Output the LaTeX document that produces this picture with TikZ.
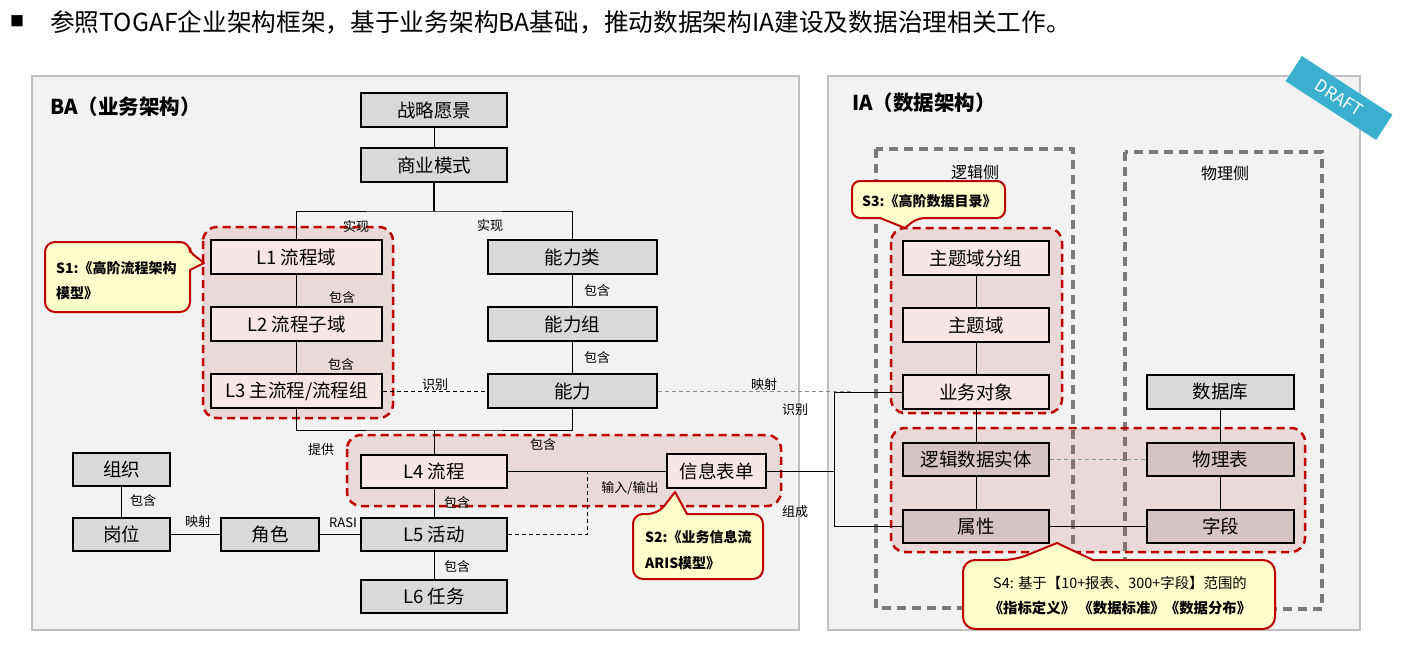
\documentclass[tikz,border=0pt]{standalone}
\usepackage{fontspec}
\setmainfont{Noto Sans CJK SC}
\definecolor{boxgray}{HTML}{D9D9D9}
\definecolor{boxpink}{HTML}{F9E5E5}
\definecolor{boxmauve}{HTML}{D6C4C5}
\definecolor{redc}{HTML}{C00000}
\definecolor{grpc}{HTML}{C0504D}
\definecolor{sidec}{HTML}{7A7A7A}
\definecolor{framec}{HTML}{BFBFBF}
\definecolor{framefill}{HTML}{F2F2F2}
\definecolor{callfill}{HTML}{FFFFCC}
\definecolor{draftc}{HTML}{3AAFCE}
\definecolor{lgray}{HTML}{8C8C8C}
\pgfdeclarelayer{lay0}
\pgfdeclarelayer{lay1}
\pgfsetlayers{lay0,lay1,main}
\begin{document}
\begin{tikzpicture}[x=1pt,y=-1pt,
 box/.style={draw=black,line width=2pt,inner sep=0pt,minimum height=34pt,font=\fontsize{18.5}{21}\selectfont},
 gbox/.style={box,fill=boxgray},
 pbox/.style={box,fill=boxpink},
 mbox/.style={box,fill=boxmauve},
 lbl/.style={inner sep=0pt,font=\fontsize{13}{15}\selectfont},
 conn/.style={line width=1pt},
 dconn/.style={line width=1pt,dash pattern=on 4pt off 3pt},
 gdconn/.style={line width=1pt,draw=lgray,dash pattern=on 4pt off 3pt},
 grp/.style={draw=redc,line width=2.5pt,dash pattern=on 8pt off 5pt,fill=grpc,fill opacity=0.15,rounded corners=14pt},
 side/.style={draw=sidec,line width=3.2pt,dash pattern=on 9pt off 6pt},
 frame/.style={draw=framec,fill=framefill,line width=2pt},
 callout/.style={draw=redc,fill=callfill,line width=2pt,line join=round},
 ctext/.style={inner sep=0pt,anchor=west,font=\fontsize{14}{16}\selectfont\bfseries},
]
\useasboundingbox (0,0) rectangle (1417,659);

% title
\node[inner sep=0pt,font=\fontsize{14}{16}\selectfont] (sq) at (17,21) {■};
\node[anchor=west,inner sep=0pt,font=\fontsize{24.7}{27}\selectfont] (title) at (50,22) {参照TOGAF企业架构框架，基于业务架构BA基础，推动数据架构IA建设及数据治理相关工作。};

% frames
\begin{pgfonlayer}{lay0}
\fill[white] (0,0) rectangle (1417,659);
\draw[frame] (32,76) rectangle (799,630);
\draw[frame] (828,76) rectangle (1360,630);
\draw[side] (876,149) rectangle (1073,608);
\draw[side] (1125,152) rectangle (1322,609);
\draw[grp] (203,227) rectangle (393,418);
\draw[grp] (347,435) rectangle (781,506);
\draw[grp] (891,228) rectangle (1062,413);
\draw[grp] (891,428) rectangle (1305,552);
\end{pgfonlayer}

\node[anchor=west,inner sep=0pt,font=\fontsize{20.5}{23}\selectfont\bfseries] (batitle) at (50,107) {BA（业务架构）};
\node[anchor=west,inner sep=0pt,font=\fontsize{20.5}{23}\selectfont\bfseries] (iatitle) at (852,103) {IA（数据架构）};

% BA nodes
\node[gbox,minimum width=146pt] (zl) at (434,110) {战略愿景};
\node[gbox,minimum width=146pt] (sy) at (434,165) {商业模式};
\node[pbox,minimum width=171pt] (L1) at (296.5,257) {L1 流程域};
\node[pbox,minimum width=171pt] (L2) at (296.5,324) {L2 流程子域};
\node[pbox,minimum width=171pt] (L3) at (296.5,391) {L3 主流程/流程组};
\node[gbox,minimum width=169pt] (nlc) at (572.5,257) {能力类};
\node[gbox,minimum width=169pt] (nlz) at (572.5,324) {能力组};
\node[gbox,minimum width=169pt] (nl) at (572.5,391) {能力};
\node[pbox,minimum width=146pt,minimum height=33pt] (L4) at (434,471) {L4 流程};
\node[pbox,minimum width=99pt] (xxbd) at (716.5,471) {信息表单};
\node[gbox,minimum width=146pt,minimum height=33pt] (L5) at (434,534.5) {L5 活动};
\node[gbox,minimum width=146pt,minimum height=33pt] (L6) at (434,596.5) {L6 任务};
\node[gbox,minimum width=97pt,minimum height=33pt] (zz) at (121.5,469.5) {组织};
\node[gbox,minimum width=97pt,minimum height=33pt] (gw) at (121.5,534.5) {岗位};
\node[gbox,minimum width=98pt,minimum height=33pt] (js) at (270,534.5) {角色};

% IA nodes
\node[anchor=center,inner sep=0pt,font=\fontsize{16}{18}\selectfont] (ljc) at (975,172) {逻辑侧};
\node[anchor=center,inner sep=0pt,font=\fontsize{16}{18}\selectfont] (wlc) at (1225,173) {物理侧};
\node[pbox,minimum width=146pt] (ztf) at (976,258) {主题域分组};
\node[pbox,minimum width=146pt] (ztd) at (976,325) {主题域};
\node[pbox,minimum width=146pt] (ywdx) at (976,392) {业务对象};
\node[mbox,minimum width=146pt,minimum height=33pt] (ljst) at (976,459.5) {逻辑数据实体};
\node[mbox,minimum width=146pt,minimum height=33pt] (sx) at (976,526.5) {属性};
\node[gbox,minimum width=147pt] (sjk) at (1220.5,392) {数据库};
\node[mbox,minimum width=147pt,minimum height=33pt] (wlb) at (1220.5,459.5) {物理表};
\node[mbox,minimum width=147pt,minimum height=33pt] (zd) at (1220.5,526.5) {字段};

% connectors
\coordinate (j1) at (434,211);
\coordinate (j2) at (434,430);
\coordinate (j3) at (587,471);
\coordinate (b1) at (834,392);
\coordinate (mapend) at (852,391);
\begin{pgfonlayer}{lay1}
\draw[conn] (zl) -- (sy);
\draw[line width=1.6pt] (sy.south) -- (j1);
\draw[conn] (L1.north) |- (j1) -| (nlc.north);
\draw[conn] (L1) -- (L2);
\draw[conn] (L2) -- (L3);
\draw[conn] (nlc) -- (nlz);
\draw[conn] (nlz) -- (nl);
\draw[dconn] (L3) -- (nl);
\draw[gdconn] (nl.east) -- (mapend);
\draw[conn] (L3.south) |- (j2) -| (nl.south);
\draw[conn] (j2) -- (L4.north);
\draw[conn] (L4) -- (xxbd);
\draw[conn] (L4) -- (L5);
\draw[conn] (L5) -- (L6);
\draw[dconn] (L5.east) -| (j3);
\draw[conn] (zz) -- (gw);
\draw[conn] (gw) -- (js);
\draw[conn] (js) -- (L5);
\draw[conn] (xxbd.east) -- (xxbd.east -| b1);
\draw[conn] (ywdx.west) -- (b1) |- (sx.west);
\draw[conn] (ztf) -- (ztd);
\draw[conn] (ztd) -- (ywdx);
\draw[conn] (ywdx) -- (ljst);
\draw[conn] (ljst) -- (sx);
\draw[conn] (sjk) -- (wlb);
\draw[conn] (wlb) -- (zd);
\draw[conn] (sx) -- (zd);
\draw[gdconn] (ljst) -- (wlb);
\end{pgfonlayer}

% labels
\node[lbl] (t1) at (356,227) {实现};
\node[lbl] (t2) at (490,226) {实现};
\node[lbl] (t3) at (342,298) {包含};
\node[lbl] (t4) at (341,365) {包含};
\node[lbl] (t5) at (597,291) {包含};
\node[lbl] (t6) at (597,358) {包含};
\node[lbl] (t7) at (435,385) {识别};
\node[lbl] (t8) at (764,385) {映射};
\node[lbl] (t9) at (795,410) {识别};
\node[lbl] (t10) at (321,450) {提供};
\node[lbl] (t11) at (543,445) {包含};
\node[lbl] (t12) at (457,503) {包含};
\node[lbl] (t13) at (630,488) {输入/输出};
\node[lbl] (t14) at (457,567) {包含};
\node[lbl] (t15) at (143,501) {包含};
\node[lbl] (t16) at (198,522) {映射};
\node[lbl] (t17) at (343,523) {RASI};
\node[lbl] (t18) at (795,512) {组成};

% callouts
\draw[callout] (45,277) [rounded corners=10pt] -- (45,242) -- (190,242) [rounded corners=4pt] -- (190,252) [sharp corners] -- (204,263) -- (190,270) [rounded corners=10pt] -- (190,312) -- (45,312) -- cycle;
\node[ctext] (s1a) at (56,268) {S1:《高阶流程架构};
\node[ctext] (s1b) at (56,293) {模型》};

\draw[callout] (633,546) [rounded corners=10pt] -- (633,514) -- (658,514) [sharp corners] -- (675,492) -- (687,514) [rounded corners=10pt] -- (763,514) -- (763,579) -- (633,579) -- cycle;
\node[ctext] (s2a) at (645,537) {S2:《业务信息流};
\node[ctext] (s2b) at (645,563) {ARIS模型》};

\draw[callout] (852,200) [rounded corners=8pt] -- (852,181) -- (1005,181) -- (1005,218) -- (917,218) [sharp corners] -- (905,228) -- (880,218) [rounded corners=8pt] -- (852,218) -- cycle;
\node[ctext] (s3) at (862,201) {S3:《高阶数据目录》};

\draw[callout] (963,595) [rounded corners=12pt] -- (963,560) -- (1015,560) [sharp corners] -- (1057,543) -- (1093,560) [rounded corners=12pt] -- (1275,560) -- (1275,629) -- (963,629) -- cycle;
\node[inner sep=0pt,font=\fontsize{14.4}{16}\selectfont] (s4a) at (1120,583) {S4: 基于【10+报表、300+字段】范围的};
\node[inner sep=0pt,font=\fontsize{14.4}{16}\selectfont\bfseries] (s4b) at (1120,608) {《指标定义》 《数据标准》《数据分布》};

% draft ribbon
\node[fill=draftc,minimum width=108pt,minimum height=30pt,inner sep=0pt,rotate=-33,text=white,font=\fontsize{17}{19}\selectfont] (draft) at (1339,98) {DRAFT};
\end{tikzpicture}
\end{document}
